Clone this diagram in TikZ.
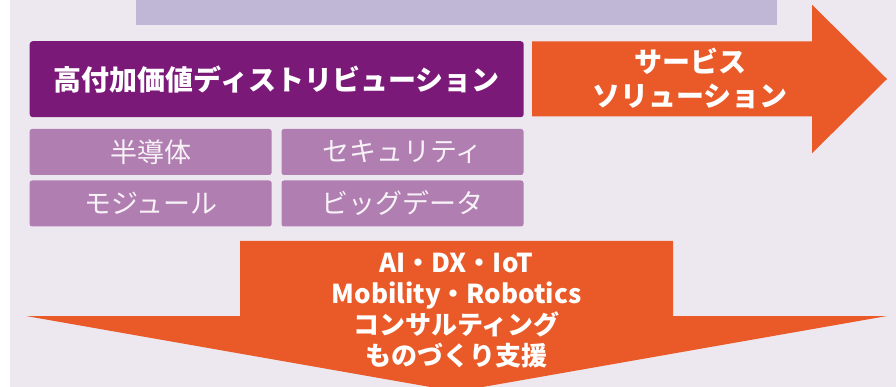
\documentclass[tikz,border=0pt]{standalone}
\usepackage{fontspec}
\setmainfont{Noto Sans CJK JP}
\definecolor{bgc}{HTML}{EDE8F0}
\definecolor{topc}{HTML}{C0B6D6}
\definecolor{deepc}{HTML}{7B1978}
\definecolor{orngc}{HTML}{E95A28}
\definecolor{litec}{HTML}{B07EB0}
\definecolor{softw}{HTML}{F8F2F8}
\tikzset{
  smallbox/.style={fill=litec, rounded corners=2.5pt, minimum width=242pt, minimum height=46pt, inner sep=0pt,
    text=softw, font=\fontsize{27}{30}\selectfont},
  arrowtext/.style={text=white, align=center, inner sep=0pt}
}
\begin{document}
\begin{tikzpicture}[x=1pt,y=-1pt]
\useasboundingbox (0,0) rectangle (896,387);
\fill[white] (0,0) rectangle (896,387);
\fill[bgc] (10,0) rectangle (896,387);
% top (cut) box
\fill[topc] (136,-2) rectangle (777,24.7);
% distribution box
\node[fill=deepc, rounded corners=3pt, minimum width=494pt, minimum height=76pt, inner sep=0pt,
  anchor=north west, text=white, font=\bfseries\fontsize{28}{32}\selectfont] (dist) at (29.5,41)
  {高付加価値ディストリビューション};
% right arrow
\path[fill=orngc] (532,41.3) -- (812,41.3) -- (812,4.7) -- (887,79) -- (812,153.3) -- (812,116.3) -- (532,116.3) -- cycle;
\node[arrowtext, font=\bfseries\fontsize{28}{34}\selectfont] (serv) at (690,78)
  {サービス\\ソリューション};
% small boxes
\node[smallbox] (b1) at (150.6,152) {半導体};
\node[smallbox] (b2) at (402.5,152) {セキュリティ};
\node[smallbox] (b3) at (150.6,203.5) {モジュール};
\node[smallbox] (b4) at (402.5,203.5) {ビッグデータ};
% down arrow
\path[fill=orngc] (240,241) -- (673,241) -- (673,316) -- (887,316) -- (456.5,391.6) -- (26,316) -- (240,316) -- cycle;
\node[arrowtext, font=\bfseries\fontsize{26}{31}\selectfont] (tech) at (456.5,311)
  {AI・DX・IoT\\Mobility・Robotics\\コンサルティング\\ものづくり支援};
\end{tikzpicture}
\end{document}
